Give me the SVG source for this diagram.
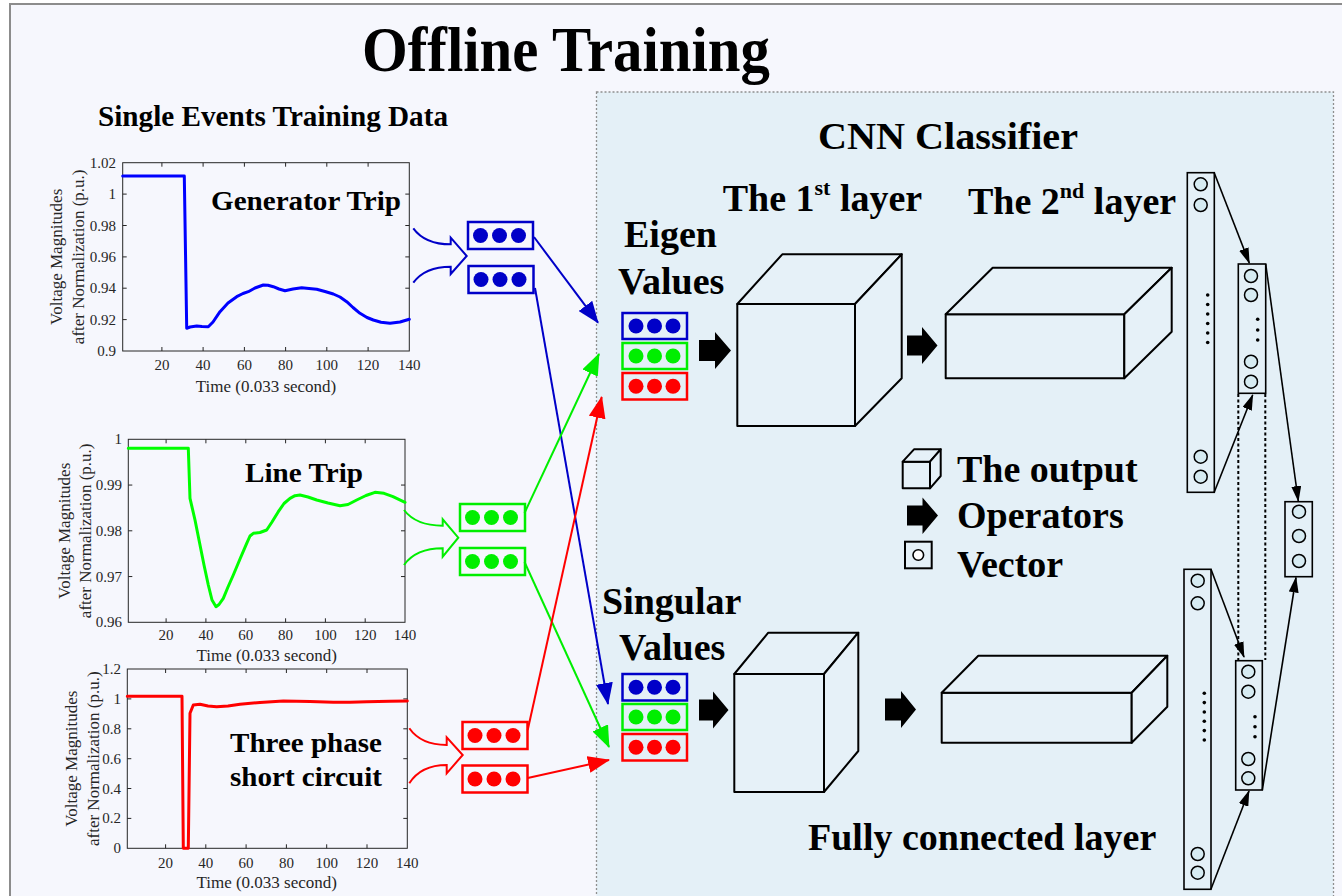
<svg xmlns="http://www.w3.org/2000/svg" width="1342" height="896" viewBox="0 0 1342 896">
<style>
.h{font-family:'Liberation Serif','Times New Roman',serif;font-weight:bold;fill:#000}
.tk{font-family:'Liberation Serif','Times New Roman',serif;font-size:15px;fill:#262626}
.tkl{text-anchor:end}
.tkx{text-anchor:middle}
.al{font-family:'Liberation Serif','Times New Roman',serif;font-size:17px;fill:#262626;text-anchor:middle}
.axis{fill:none;stroke:#262626;stroke-width:1}
.tick{stroke:#262626;stroke-width:1}
.curve{fill:none;stroke-width:3;stroke-linejoin:round;stroke-linecap:round}
.cube{fill:#e6f1f8;stroke:#000;stroke-width:2;stroke-linejoin:round}
.op{fill:#000}
.vb{stroke-width:2.5}
.fc{fill:#e4f0f7;stroke:#000;stroke-width:1.6}
.nd{fill:#d6ebf2;stroke:#000;stroke-width:1.5}
.dot{fill:#000}
.con{fill:none;stroke-width:2}
.fcl{fill:none;stroke:#000;stroke-width:1.6}
.dash{fill:none;stroke:#000;stroke-width:2;stroke-dasharray:3 2.5}
.merge{fill:none;stroke-width:2;stroke-linejoin:miter}
</style>
<defs>
<marker id="aB" markerUnits="userSpaceOnUse" markerWidth="22" markerHeight="17" refX="21" refY="8.5" orient="auto"><path d="M0,0 L22,8.5 L0,17 Z" fill="#0000c8"/></marker>
<marker id="aG" markerUnits="userSpaceOnUse" markerWidth="22" markerHeight="17" refX="21" refY="8.5" orient="auto"><path d="M0,0 L22,8.5 L0,17 Z" fill="#00ee00"/></marker>
<marker id="aR" markerUnits="userSpaceOnUse" markerWidth="22" markerHeight="17" refX="21" refY="8.5" orient="auto"><path d="M0,0 L22,8.5 L0,17 Z" fill="#ff0000"/></marker>
<marker id="aK" markerUnits="userSpaceOnUse" markerWidth="16" markerHeight="10" refX="15" refY="5" orient="auto"><path d="M0,0 L16,5 L0,10 Z" fill="#000"/></marker>
</defs>

<!-- background -->
<rect x="0" y="0" width="1342" height="896" fill="#ffffff"/>
<rect x="10" y="4" width="1340" height="900" fill="#f6f7fd" stroke="#8c8c8c" stroke-width="2"/>
<rect x="596.5" y="92" width="737" height="810" fill="#e4f0f7" stroke="#8f8f8f" stroke-width="1.3" stroke-dasharray="2 2"/>

<!-- headings -->
<text class="h" x="362" y="71" font-size="63" textLength="408" lengthAdjust="spacingAndGlyphs">Offline Training</text>
<text class="h" x="98" y="126" font-size="29" textLength="350" lengthAdjust="spacingAndGlyphs">Single Events Training Data</text>
<text class="h" x="818" y="149" font-size="38" textLength="260" lengthAdjust="spacingAndGlyphs">CNN  Classifier</text>

<!-- Plot 1 -->
<g id="plot-generator-trip">
<rect class="axis" x="122.7" y="162.7" width="286.6" height="188.3"/>
<path class="tick" d="M122.7,319.6h4M122.7,288.2h4M122.7,256.9h4M122.7,225.5h4M122.7,194.1h4M409.3,319.6h-4M409.3,288.2h-4M409.3,256.9h-4M409.3,225.5h-4M409.3,194.1h-4M161.9,351v-4M203.1,351v-4M244.4,351v-4M285.6,351v-4M326.8,351v-4M368.1,351v-4M161.9,162.7v4M203.1,162.7v4M244.4,162.7v4M285.6,162.7v4M326.8,162.7v4M368.1,162.7v4"/>
<g class="tk tkl">
<text x="116" y="356">0.9</text><text x="116" y="324.6">0.92</text><text x="116" y="293.2">0.94</text><text x="116" y="261.9">0.96</text><text x="116" y="230.5">0.98</text><text x="116" y="199.1">1</text><text x="116" y="167.7">1.02</text>
</g>
<g class="tk tkx">
<text x="161.9" y="370">20</text><text x="203.1" y="370">40</text><text x="244.4" y="370">60</text><text x="285.6" y="370">80</text><text x="326.8" y="370">100</text><text x="368.1" y="370">120</text><text x="409.3" y="370">140</text>
</g>
<text class="al" x="266" y="391.7">Time (0.033 second)</text>
<text class="al" transform="translate(62,256.8) rotate(-90)">Voltage Magnitudes</text>
<text class="al" transform="translate(83.5,256.8) rotate(-90)">after Normalization  (p.u.)</text>
<polyline class="curve" stroke="#0000ff" points="122.7,176 184.3,176 186.7,328.3 190,327 196.7,326 202,326.5 208.3,326.7 213,322 220,311.7 228,303 236.7,296.7 243,293.5 248.3,291.7 255,288 263.3,285 268,285.3 273.3,286.7 279,289 285,290.7 293,289 301.7,287.7 309,288.5 316.7,289.3 325,291.5 333.3,294 340,297 346.7,301.7 353,307.5 360,313.3 367,317.5 373.3,320 381,322.3 390,323.3 400,322 409.3,319.3"/>
<text class="h" x="211" y="210" font-size="28" textLength="190" lengthAdjust="spacingAndGlyphs">Generator Trip</text>
</g>

<!-- Plot 2 -->
<g id="plot-line-trip">
<rect class="axis" x="128.3" y="439.3" width="276.7" height="183"/>
<path class="tick" d="M128.3,576.55h4M128.3,530.8h4M128.3,485.05h4M405,576.55h-4M405,530.8h-4M405,485.05h-4M166.1,622.3v-4M205.9,622.3v-4M245.8,622.3v-4M285.6,622.3v-4M325.4,622.3v-4M365.2,622.3v-4M166.1,439.3v4M205.9,439.3v4M245.8,439.3v4M285.6,439.3v4M325.4,439.3v4M365.2,439.3v4"/>
<g class="tk tkl">
<text x="122" y="627.3">0.96</text><text x="122" y="581.5">0.97</text><text x="122" y="535.8">0.98</text><text x="122" y="490">0.99</text><text x="122" y="444.3">1</text>
</g>
<g class="tk tkx">
<text x="166.1" y="640">20</text><text x="205.9" y="640">40</text><text x="245.8" y="640">60</text><text x="285.6" y="640">80</text><text x="325.4" y="640">100</text><text x="365.2" y="640">120</text><text x="405" y="640">140</text>
</g>
<text class="al" x="266.7" y="661">Time (0.033 second)</text>
<text class="al" transform="translate(69.5,530.8) rotate(-90)">Voltage Magnitudes</text>
<text class="al" transform="translate(91,530.8) rotate(-90)">after Normalization  (p.u.)</text>
<polyline class="curve" stroke="#00ff00" points="128.3,448.3 188.3,448.3 190,498.3 195,520 200,545 204,565 208.3,585 212,600 216,606.7 219,604.5 223.3,598.3 228,587 233.3,575 240,559 246.7,543.3 250,536 253.3,533.3 260,532.5 266.7,530 272,522 278.3,511.7 284,503.5 290,498.3 295,495.7 300,495 308,497 316.7,500 328,503 340,505.7 348,504.5 356.7,500 366,495.5 375,492.3 384,493.3 393,496.7 405,502.3"/>
<text class="h" x="245" y="482.3" font-size="28" textLength="118" lengthAdjust="spacingAndGlyphs">Line Trip</text>
</g>

<!-- Plot 3 -->
<g id="plot-three-phase">
<rect class="axis" x="127.3" y="669" width="280" height="179.3"/>
<path class="tick" d="M127.3,818.4h4M127.3,788.5h4M127.3,758.7h4M127.3,728.8h4M127.3,698.9h4M407.3,818.4h-4M407.3,788.5h-4M407.3,758.7h-4M407.3,728.8h-4M407.3,698.9h-4M165.6,848.3v-4M205.8,848.3v-4M246.1,848.3v-4M286.4,848.3v-4M326.7,848.3v-4M367,848.3v-4M165.6,669v4M205.8,669v4M246.1,669v4M286.4,669v4M326.7,669v4M367,669v4"/>
<g class="tk tkl">
<text x="121" y="853.3">0</text><text x="121" y="823.4">0.2</text><text x="121" y="793.5">0.4</text><text x="121" y="763.7">0.6</text><text x="121" y="733.8">0.8</text><text x="121" y="703.9">1</text><text x="121" y="674">1.2</text>
</g>
<g class="tk tkx">
<text x="165.6" y="868.3">20</text><text x="205.8" y="868.3">40</text><text x="246.1" y="868.3">60</text><text x="286.4" y="868.3">80</text><text x="326.7" y="868.3">100</text><text x="367" y="868.3">120</text><text x="407.3" y="868.3">140</text>
</g>
<text class="al" x="266.7" y="888.3">Time (0.033 second)</text>
<text class="al" transform="translate(77,758.7) rotate(-90)">Voltage Magnitudes</text>
<text class="al" transform="translate(98.5,758.7) rotate(-90)">after Normalization  (p.u.)</text>
<polyline class="curve" stroke="#ff0000" points="127.3,696.3 182,696.3 183.3,848.3 188.3,848.3 190,713.3 193.3,705 200,704.3 208,706 216.7,706.7 228,706 240,704.3 260,702.5 283.3,701 310,701.5 333.3,702.3 350,702.2 366.7,701.7 390,701.2 407.3,701"/>
<text class="h" x="230" y="751.7" font-size="28" textLength="152" lengthAdjust="spacingAndGlyphs">Three phase</text>
<text class="h" x="230" y="785.7" font-size="28" textLength="152" lengthAdjust="spacingAndGlyphs">short circuit</text>
</g>

<!-- merge arrows -->
<g id="merge-arrows">
<path class="merge" stroke="#0000c8" d="M413.3,228.3 Q425,244.3 450.7,244.3 L450.7,237.7 L466.7,256 L450.7,274 L450.7,266.7 Q425,266.7 413.3,282.7"/>
<path class="merge" stroke="#00ee00" d="M404,510 Q416,525.7 442.7,525.7 L442.7,519.3 L458.3,537.7 L442.7,556.7 L442.7,548.3 Q416,548.3 404,565"/>
<path class="merge" stroke="#ff0000" d="M409.3,728.3 Q421,745 446.7,745 L446.7,737.3 L462.7,755 L446.7,773.3 L446.7,765 Q421,765 409.3,783.3"/>
</g>

<!-- feature vectors (left) -->
<g id="vec-gen-1"><rect class="vb" x="468" y="222" width="65" height="27" fill="none" stroke="#0000c8"/><g fill="#0000c8"><circle cx="480.5" cy="235.5" r="7.5"/><circle cx="499.5" cy="235.5" r="7.5"/><circle cx="518.5" cy="235.5" r="7.5"/></g></g>
<g id="vec-gen-2"><rect class="vb" x="468.5" y="266" width="65" height="27" fill="none" stroke="#0000c8"/><g fill="#0000c8"><circle cx="481" cy="279.5" r="7.5"/><circle cx="500" cy="279.5" r="7.5"/><circle cx="519" cy="279.5" r="7.5"/></g></g>
<g id="vec-line-1"><rect class="vb" x="460" y="504" width="65" height="27" fill="none" stroke="#00ee00"/><g fill="#00ee00"><circle cx="472.5" cy="517.5" r="7.5"/><circle cx="491.5" cy="517.5" r="7.5"/><circle cx="510.5" cy="517.5" r="7.5"/></g></g>
<g id="vec-line-2"><rect class="vb" x="460" y="548" width="65" height="27" fill="none" stroke="#00ee00"/><g fill="#00ee00"><circle cx="472.5" cy="561.5" r="7.5"/><circle cx="491.5" cy="561.5" r="7.5"/><circle cx="510.5" cy="561.5" r="7.5"/></g></g>
<g id="vec-3ph-1"><rect class="vb" x="462.5" y="722" width="65" height="27" fill="none" stroke="#ff0000"/><g fill="#ff0000"><circle cx="475" cy="735.5" r="7.5"/><circle cx="494" cy="735.5" r="7.5"/><circle cx="513" cy="735.5" r="7.5"/></g></g>
<g id="vec-3ph-2"><rect class="vb" x="462.5" y="765.5" width="65" height="27" fill="none" stroke="#ff0000"/><g fill="#ff0000"><circle cx="475" cy="779" r="7.5"/><circle cx="494" cy="779" r="7.5"/><circle cx="513" cy="779" r="7.5"/></g></g>

<!-- Eigen / Singular inputs -->
<g id="eigen-values">
<text class="h" x="624" y="247" font-size="38">Eigen</text>
<text class="h" x="618" y="293.5" font-size="38">Values</text>
<rect class="vb" x="622.5" y="313" width="64.5" height="26" fill="none" stroke="#0000c8"/><g fill="#0000c8"><circle cx="636" cy="326" r="7.5"/><circle cx="654.5" cy="326" r="7.5"/><circle cx="673" cy="326" r="7.5"/></g>
<rect class="vb" x="622.5" y="343" width="64.5" height="26" fill="none" stroke="#00ee00"/><g fill="#00ee00"><circle cx="636" cy="356" r="7.5"/><circle cx="654.5" cy="356" r="7.5"/><circle cx="673" cy="356" r="7.5"/></g>
<rect class="vb" x="622.5" y="373" width="64.5" height="26.5" fill="none" stroke="#ff0000"/><g fill="#ff0000"><circle cx="636" cy="386.2" r="7.5"/><circle cx="654.5" cy="386.2" r="7.5"/><circle cx="673" cy="386.2" r="7.5"/></g>
</g>
<g id="singular-values">
<text class="h" x="602" y="613.5" font-size="38">Singular</text>
<text class="h" x="619" y="660" font-size="38">Values</text>
<rect class="vb" x="622.5" y="674" width="64.5" height="26.5" fill="none" stroke="#0000c8"/><g fill="#0000c8"><circle cx="636" cy="687.2" r="7.5"/><circle cx="654.5" cy="687.2" r="7.5"/><circle cx="673" cy="687.2" r="7.5"/></g>
<rect class="vb" x="622.5" y="704" width="64.5" height="26" fill="none" stroke="#00ee00"/><g fill="#00ee00"><circle cx="636" cy="717" r="7.5"/><circle cx="654.5" cy="717" r="7.5"/><circle cx="673" cy="717" r="7.5"/></g>
<rect class="vb" x="622.5" y="734" width="64.5" height="26.5" fill="none" stroke="#ff0000"/><g fill="#ff0000"><circle cx="636" cy="747.2" r="7.5"/><circle cx="654.5" cy="747.2" r="7.5"/><circle cx="673" cy="747.2" r="7.5"/></g>
</g>

<!-- CNN layers -->
<g id="layer-titles">
<text class="h" x="722.7" y="210.7" font-size="38">The 1<tspan font-size="22" dy="-16">st</tspan><tspan dy="16"> layer</tspan></text>
<text class="h" x="968" y="214.3" font-size="38">The 2<tspan font-size="22" dy="-16">nd</tspan><tspan dy="16"> layer</tspan></text>
</g>
<g id="eig-layer1">
<rect class="cube" x="737.3" y="304" width="117.7" height="122"/>
<path class="cube" d="M737.3,304 L782.3,254.3 L901.7,254.3 L855,304 Z"/>
<path class="cube" d="M855,304 L901.7,254.3 L901.7,378.3 L855,426 Z"/>
</g>
<g id="eig-layer2">
<rect class="cube" x="945.7" y="314.3" width="178.6" height="64"/>
<path class="cube" d="M945.7,314.3 L992.7,267.7 L1171.7,267.7 L1124.3,314.3 Z"/>
<path class="cube" d="M1124.3,314.3 L1171.7,267.7 L1171.7,331.7 L1124.3,378.3 Z"/>
</g>
<g id="sv-layer1">
<rect class="cube" x="734.3" y="674" width="89.7" height="118"/>
<path class="cube" d="M734.3,674 L768.3,632.7 L858.3,632.7 L824,674 Z"/>
<path class="cube" d="M824,674 L858.3,632.7 L858.3,751 L824,792 Z"/>
</g>
<g id="sv-layer2">
<rect class="cube" x="941.7" y="692.7" width="190" height="50"/>
<path class="cube" d="M941.7,692.7 L978.3,655.7 L1167.3,655.7 L1131.7,692.7 Z"/>
<path class="cube" d="M1131.7,692.7 L1167.3,655.7 L1167.3,706.7 L1131.7,742.7 Z"/>
</g>
<g id="operators">
<path class="op" d="M699,340 L715,340 L715,332 L731,350.5 L715,369 L715,361 L699,361 Z"/>
<path class="op" d="M907,335.5 L922,335.5 L922,327 L937.5,345.5 L922,364 L922,355.5 L907,355.5 Z"/>
<path class="op" d="M699,699.5 L713,699.5 L713,691.5 L728.5,710 L713,728.5 L713,720.5 L699,720.5 Z"/>
<path class="op" d="M885,698.5 L901,698.5 L901,691 L916,709.5 L901,728 L901,720.5 L885,720.5 Z"/>
</g>

<!-- legend -->
<g id="legend">
<rect class="cube" x="902.7" y="461.7" width="27.3" height="26.6"/>
<path class="cube" d="M902.7,461.7 L914,449.3 L940.7,449.3 L930,461.7 Z"/>
<path class="cube" d="M930,461.7 L940.7,449.3 L940.7,476 L930,488.3 Z"/>
<text class="h" x="957" y="481.7" font-size="38">The output</text>
<path class="op" d="M907,505.5 L922.5,505.5 L922.5,497.5 L938,515.5 L922.5,534 L922.5,525.5 L907,525.5 Z"/>
<text class="h" x="957" y="527.5" font-size="38">Operators</text>
<rect x="905" y="541.7" width="26.7" height="26.6" fill="none" stroke="#000" stroke-width="2"/>
<circle cx="918.3" cy="555" r="5.3" fill="#fff" stroke="#000" stroke-width="1.6"/>
<text class="h" x="957" y="576.5" font-size="38">Vector</text>
</g>

<!-- fully connected -->
<g id="fc-eig-1">
<rect class="fc" x="1187.3" y="172.7" width="27" height="319.6"/>
<circle class="nd" cx="1200.7" cy="184.3" r="6.5"/><circle class="nd" cx="1200.7" cy="205" r="6.5"/>
<circle class="nd" cx="1200.7" cy="456.7" r="6.5"/><circle class="nd" cx="1200.7" cy="476.7" r="6.5"/>
<g class="dot"><circle cx="1207.7" cy="295" r="1.8"/><circle cx="1207.7" cy="304.5" r="1.8"/><circle cx="1207.7" cy="314" r="1.8"/><circle cx="1207.7" cy="323.5" r="1.8"/><circle cx="1207.7" cy="333" r="1.8"/><circle cx="1207.7" cy="342.5" r="1.8"/></g>
</g>
<g id="fc-eig-2">
<rect class="fc" x="1238.3" y="264" width="27.4" height="129.3"/>
<circle class="nd" cx="1251" cy="276" r="6.5"/><circle class="nd" cx="1251" cy="295" r="6.5"/>
<circle class="nd" cx="1251" cy="361.7" r="6.5"/><circle class="nd" cx="1251" cy="381.7" r="6.5"/>
<g class="dot"><circle cx="1257.7" cy="319.3" r="1.8"/><circle cx="1257.7" cy="330" r="1.8"/><circle cx="1257.7" cy="340" r="1.8"/></g>
</g>
<g id="fc-sv-1">
<rect class="fc" x="1184" y="569.3" width="27" height="320"/>
<circle class="nd" cx="1197.7" cy="580.7" r="6.5"/><circle class="nd" cx="1197.7" cy="603.3" r="6.5"/>
<circle class="nd" cx="1197.7" cy="854" r="6.5"/><circle class="nd" cx="1197.7" cy="872.7" r="6.5"/>
<g class="dot"><circle cx="1204.3" cy="693.3" r="1.8"/><circle cx="1204.3" cy="702.6" r="1.8"/><circle cx="1204.3" cy="712" r="1.8"/><circle cx="1204.3" cy="721.3" r="1.8"/><circle cx="1204.3" cy="730.6" r="1.8"/><circle cx="1204.3" cy="740" r="1.8"/></g>
</g>
<g id="fc-sv-2">
<rect class="fc" x="1235.7" y="660.7" width="26.6" height="129.3"/>
<circle class="nd" cx="1248.3" cy="671.7" r="6.5"/><circle class="nd" cx="1248.3" cy="691.7" r="6.5"/>
<circle class="nd" cx="1248.3" cy="759" r="6.5"/><circle class="nd" cx="1248.3" cy="778.3" r="6.5"/>
<g class="dot"><circle cx="1255" cy="716.7" r="1.8"/><circle cx="1255" cy="726.7" r="1.8"/><circle cx="1255" cy="736.7" r="1.8"/></g>
</g>
<g id="fc-output">
<rect class="fc" x="1285" y="501.7" width="27.3" height="75"/>
<circle class="nd" cx="1299" cy="511.7" r="6.5"/><circle class="nd" cx="1299" cy="536" r="6.5"/><circle class="nd" cx="1299" cy="561" r="6.5"/>
</g>
<text class="h" x="808" y="850" font-size="38">Fully connected layer</text>

<!-- connectors -->
<g id="connectors">
<line class="con" stroke="#0000c8" x1="534" y1="237" x2="598" y2="322.7" marker-end="url(#aB)"/>
<line class="con" stroke="#0000c8" x1="535" y1="288" x2="608" y2="704" marker-end="url(#aB)"/>
<line class="con" stroke="#00ee00" x1="524.5" y1="513" x2="599" y2="354" marker-end="url(#aG)"/>
<line class="con" stroke="#00ee00" x1="524.5" y1="562" x2="609" y2="747" marker-end="url(#aG)"/>
<line class="con" stroke="#ff0000" x1="527.7" y1="730" x2="601.7" y2="397" marker-end="url(#aR)"/>
<line class="con" stroke="#ff0000" x1="527.7" y1="778" x2="609" y2="760" marker-end="url(#aR)"/>
<line class="fcl" x1="1214.3" y1="173" x2="1249.3" y2="263" marker-end="url(#aK)"/>
<line class="fcl" x1="1214.3" y1="492" x2="1252.7" y2="395" marker-end="url(#aK)"/>
<line class="fcl" x1="1265.7" y1="264" x2="1298.3" y2="501" marker-end="url(#aK)"/>
<line class="fcl" x1="1211" y1="569.3" x2="1244" y2="657" marker-end="url(#aK)"/>
<line class="fcl" x1="1211" y1="889" x2="1249" y2="791" marker-end="url(#aK)"/>
<line class="fcl" x1="1262.3" y1="790" x2="1296" y2="577.5" marker-end="url(#aK)"/>
<line class="dash" x1="1238.3" y1="394" x2="1238.3" y2="660"/>
<line class="dash" x1="1265.3" y1="394" x2="1265.3" y2="660"/>
</g>
</svg>
